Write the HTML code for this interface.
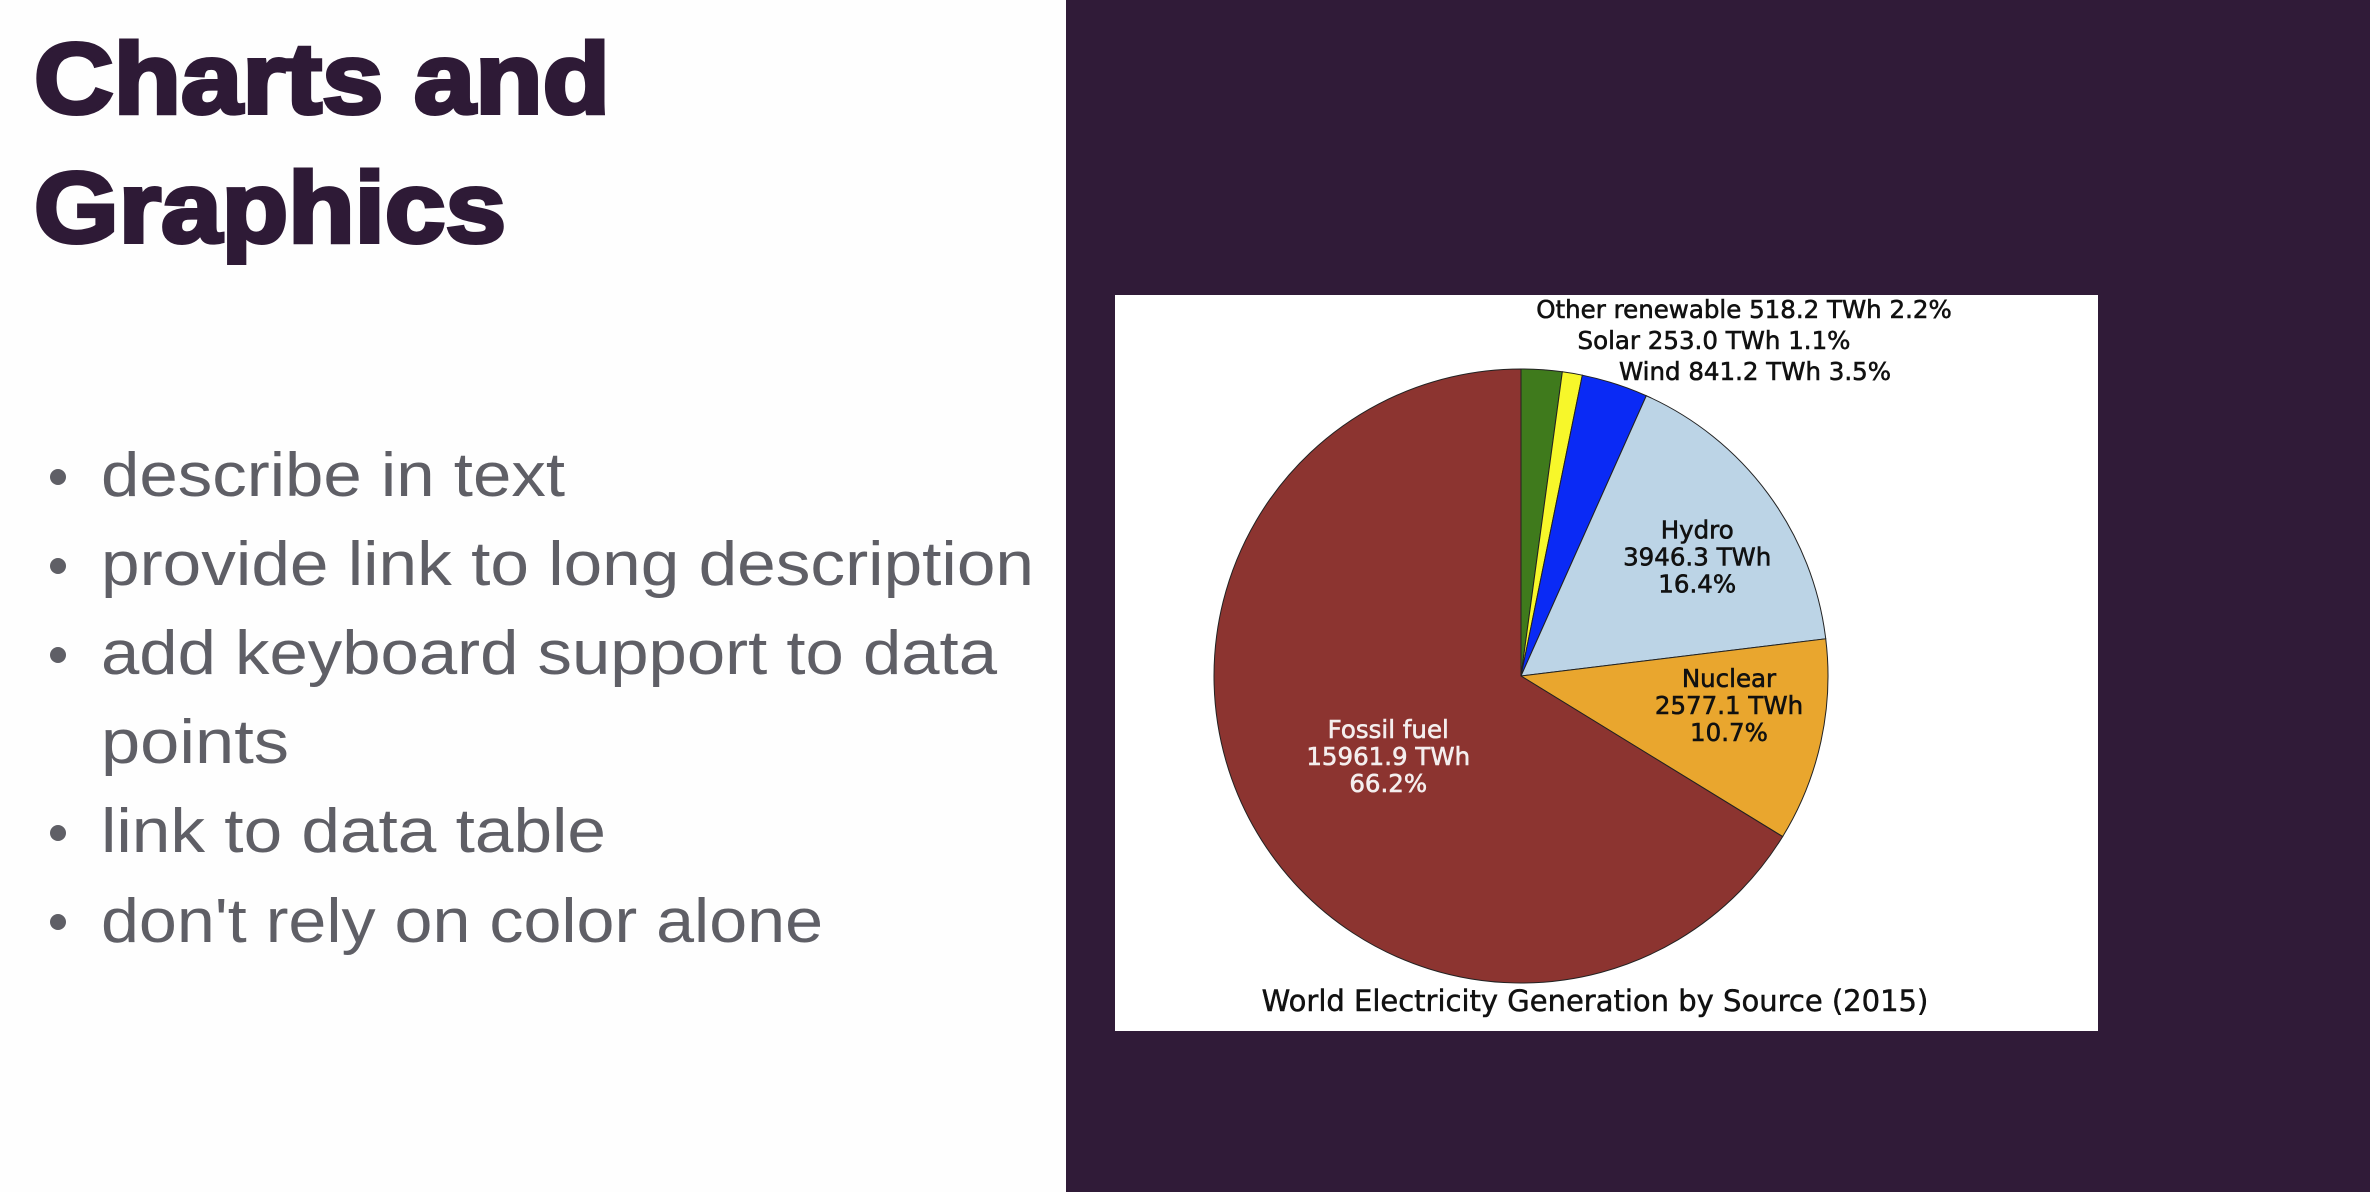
<!DOCTYPE html>
<html><head><meta charset="utf-8"><style>
html,body{margin:0;padding:0;width:2370px;height:1192px;overflow:hidden;background:#fff}
svg{display:block}
</style></head><body>
<svg id="s" width="2370" height="1192" xmlns="http://www.w3.org/2000/svg">
<rect x="0" y="0" width="1066" height="1192" fill="#fefefe"/>
<rect x="1066" y="0" width="1304" height="1192" fill="#301b38"/>
<g font-family="'Liberation Sans', sans-serif" font-weight="900" fill="#2e1a36" stroke="#2e1a36" stroke-width="4">
<text x="34" y="113" font-size="100" textLength="576" lengthAdjust="spacingAndGlyphs">Charts and</text>
<text x="34" y="242" font-size="100" textLength="472" lengthAdjust="spacingAndGlyphs">Graphics</text>
</g>
<g font-family="'Liberation Sans', sans-serif" font-size="62" fill="#5f5f66">
<circle cx="58" cy="477" r="8"/><text x="101" y="496" textLength="464" lengthAdjust="spacingAndGlyphs">describe in text</text>
<circle cx="58" cy="566" r="8"/><text x="101" y="585" textLength="933" lengthAdjust="spacingAndGlyphs">provide link to long description</text>
<circle cx="58" cy="655" r="8"/><text x="101" y="674" textLength="896" lengthAdjust="spacingAndGlyphs">add keyboard support to data</text>
<text x="101" y="763" textLength="188" lengthAdjust="spacingAndGlyphs">points</text>
<circle cx="58" cy="833" r="8"/><text x="101" y="852" textLength="505" lengthAdjust="spacingAndGlyphs">link to data table</text>
<circle cx="58" cy="922" r="8"/><text x="101" y="942" textLength="722" lengthAdjust="spacingAndGlyphs">don't rely on color alone</text>
</g>
<rect x="1115" y="295" width="983" height="736" fill="#ffffff"/>
<g id="pie"></g>
<g font-family="'DejaVu Sans', sans-serif" font-size="24.5" fill="#111" stroke="#111" stroke-width="0.6" text-anchor="middle">
<text x="1744" y="318">Other renewable 518.2 TWh 2.2%</text>
<text x="1714" y="349">Solar 253.0 TWh 1.1%</text>
<text x="1755" y="380">Wind 841.2 TWh 3.5%</text>
</g>
<text x="1595" y="1011" font-family="'DejaVu Sans', sans-serif" font-size="29" fill="#111" stroke="#111" stroke-width="0.5" text-anchor="middle">World Electricity Generation by Source (2015)</text>
</svg>
<script>
const categories = ["Other renewable","Solar","Wind","Hydro","Nuclear","Fossil fuel"];
const values = [518.2, 253.0, 841.2, 3946.3, 2577.1, 15961.9];
const percents = ["2.2%","1.1%","3.5%","16.4%","10.7%","66.2%"];
const colors = ["#3f7a1c","#f7f72a","#0a2af5","#bcd4e6","#e9a62e","#8c3430"];
const insideLabel = [false,false,false,true,true,true];
const cx=1521, cy=676, r=307;
const NS="http://www.w3.org/2000/svg";
const g=document.getElementById('pie');
const total=values.reduce((a,b)=>a+b,0);
function pt(frac,rad){const a=frac*2*Math.PI;return [cx+rad*Math.sin(a), cy-rad*Math.cos(a)];}
let acc=0;
values.forEach((v,i)=>{
  const f0=acc/total, f1=(acc+v)/total; acc+=v;
  const p0=pt(f0,r), p1=pt(f1,r);
  const large=(f1-f0)>0.5?1:0;
  const path=document.createElementNS(NS,'path');
  path.setAttribute('d',`M${cx},${cy} L${p0[0]},${p0[1]} A${r},${r} 0 ${large} 1 ${p1[0]},${p1[1]} Z`);
  path.setAttribute('fill',colors[i]);
  path.setAttribute('stroke','#222');
  path.setAttribute('stroke-width','1');
  
  
  g.appendChild(path);
  if(insideLabel[i]){
    const m=pt((f0+f1)/2, r*0.6);
    const lx=m[0]+28;
    const t=document.createElementNS(NS,'text');
    t.setAttribute('x',lx); t.setAttribute('y',m[1]-28);
    t.setAttribute('text-anchor','middle');
    t.setAttribute('font-family',"'DejaVu Sans', sans-serif");
    t.setAttribute('font-size','24.5');
    t.setAttribute('fill', i===5?'#f4eeee':'#111');
    t.setAttribute('stroke', i===5?'#f4eeee':'#111');
    t.setAttribute('stroke-width','0.6');
    
    
    const lines=[categories[i], values[i].toFixed(1)+' TWh', percents[i]];
    lines.forEach((s,k)=>{const ts=document.createElementNS(NS,'tspan');ts.setAttribute('x',lx);ts.setAttribute('dy',k===0?'0':'27');ts.textContent=s;t.appendChild(ts);});
    g.appendChild(t);
  }
});
</script>
</body></html>
